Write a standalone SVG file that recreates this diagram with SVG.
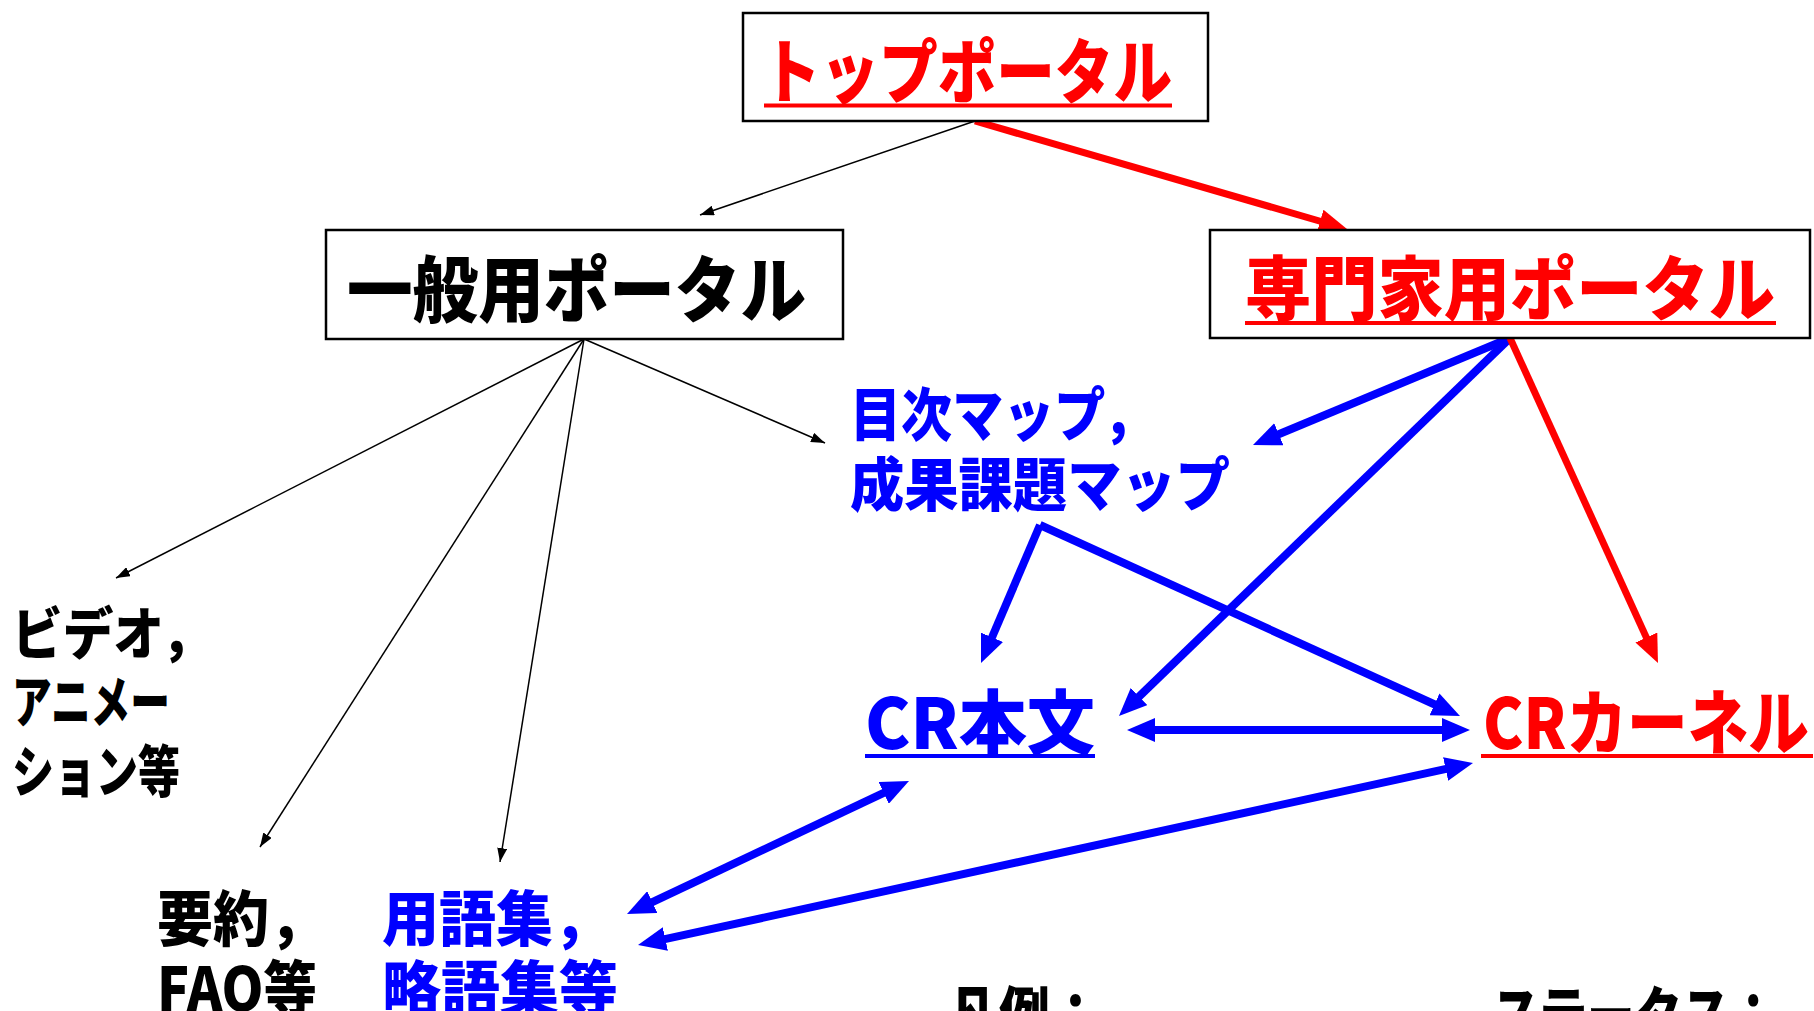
<svg xmlns="http://www.w3.org/2000/svg" width="1814" height="1011" viewBox="0 0 1814 1011">
<style>
  text { font-family: "Noto Sans CJK JP", "Noto Sans", sans-serif; font-weight: 900; }
  .box { fill: #ffffff; stroke: #000000; stroke-width: 2.5; }
  .red { fill: #ff0000; }
  .blue { fill: #0000ff; }
  .blk { fill: #000000; }
  .thin { stroke: #000000; stroke-width: 1.5; fill: none; marker-end: url(#ahBlack); }
  .bl { stroke: #0000ff; stroke-width: 8; fill: none; marker-end: url(#ahBlue); }
  .bl2 { stroke: #0000ff; stroke-width: 8; fill: none; marker-start: url(#ahBlue); marker-end: url(#ahBlue); }
  .rd { stroke: #ff0000; stroke-width: 7; fill: none; marker-end: url(#ahRed); }
</style>
<defs>
  <marker id="ahBlack" markerUnits="userSpaceOnUse" viewBox="0 0 14 10" markerWidth="14" markerHeight="10" refX="14" refY="5" orient="auto-start-reverse">
    <path d="M0,0 L14,5 L0,10 z" fill="#000000"/>
  </marker>
  <marker id="ahBlue" markerUnits="userSpaceOnUse" viewBox="0 0 28 24" markerWidth="28" markerHeight="24" refX="10" refY="12" orient="auto-start-reverse">
    <path d="M0,0 L28,12 L0,24 z" fill="#0000ff"/>
  </marker>
  <marker id="ahRed" markerUnits="userSpaceOnUse" viewBox="0 0 28 24" markerWidth="28" markerHeight="24" refX="10" refY="12" orient="auto-start-reverse">
    <path d="M0,0 L28,12 L0,24 z" fill="#ff0000"/>
  </marker>
</defs>
<rect x="0" y="0" width="1814" height="1011" fill="#ffffff"/>

<g id="connectors">
  <line class="thin" x1="975" y1="121" x2="700" y2="215"/>
  <line class="rd" x1="975" y1="121" x2="1329.7" y2="224"/>
  <line class="thin" x1="584" y1="339" x2="116" y2="578"/>
  <line class="thin" x1="584" y1="339" x2="260" y2="847"/>
  <line class="thin" x1="584" y1="339" x2="500" y2="862"/>
  <line class="thin" x1="584" y1="339" x2="825" y2="443"/>
  <line class="bl" x1="1510" y1="338" x2="1269.6" y2="438.1"/>
  <line class="bl" x1="1510" y1="338" x2="1131.9" y2="703.5"/>
  <line class="rd" x1="1510" y1="338" x2="1650.5" y2="646.6"/>
  <line class="bl" x1="1040" y1="525" x2="988.1" y2="646.5"/>
  <line class="bl" x1="1040" y1="525" x2="1443.6" y2="708.5"/>
  <line class="bl2" x1="1145" y1="730" x2="1452" y2="730"/>
  <line class="bl2" x1="643.3" y1="906.3" x2="892.7" y2="788.7"/>
  <line class="bl2" x1="655.6" y1="941.2" x2="1455.4" y2="766.8"/>
</g>

<g id="top-portal">
  <rect class="box" x="743" y="13" width="465" height="108"/>
  <text class="red" x="762" y="98" font-size="70" textLength="410" lengthAdjust="spacingAndGlyphs">トップポータル</text>
  <rect class="red" x="764" y="103.5" width="408" height="4"/>
</g>

<g id="general-portal">
  <rect class="box" x="326" y="230" width="517" height="109"/>
  <text class="blk" x="347" y="316" font-size="72" textLength="459" lengthAdjust="spacingAndGlyphs">一般用ポータル</text>
</g>

<g id="expert-portal">
  <rect class="box" x="1210" y="230" width="600" height="108"/>
  <text class="red" x="1245" y="315" font-size="70" textLength="530" lengthAdjust="spacingAndGlyphs">専門家用ポータル</text>
  <rect class="red" x="1245" y="321" width="531" height="4"/>
</g>

<g id="toc-map">
  <text class="blue" x="850" y="436" font-size="58" textLength="304" lengthAdjust="spacingAndGlyphs">目次マップ，</text>
  <text class="blue" x="850" y="506" font-size="58" textLength="380" lengthAdjust="spacingAndGlyphs">成果課題マップ</text>
</g>

<g id="cr-body">
  <text class="blue" x="865" y="749" font-size="70" textLength="230" lengthAdjust="spacingAndGlyphs">CR本文</text>
  <rect class="blue" x="865" y="754" width="230" height="4"/>
</g>

<g id="cr-kernel">
  <text class="red" x="1483" y="749" font-size="70" textLength="326" lengthAdjust="spacingAndGlyphs">CRカーネル</text>
  <rect class="red" x="1481" y="754" width="332" height="4"/>
</g>

<g id="video">
  <text class="blk" x="12" y="654" font-size="56" textLength="200" lengthAdjust="spacingAndGlyphs">ビデオ，</text>
  <text class="blk" x="12" y="722" font-size="56" textLength="158" lengthAdjust="spacingAndGlyphs">アニメー</text>
  <text class="blk" x="12" y="792" font-size="56" textLength="168" lengthAdjust="spacingAndGlyphs">ション等</text>
</g>

<g id="summary">
  <text class="blk" x="157" y="941" font-size="60" textLength="168" lengthAdjust="spacingAndGlyphs">要約，</text>
  <text class="blk" x="157" y="1011" font-size="60" textLength="160" lengthAdjust="spacingAndGlyphs">FAQ等</text>
</g>

<g id="glossary">
  <text class="blue" x="382" y="941" font-size="60" textLength="228" lengthAdjust="spacingAndGlyphs">用語集，</text>
  <text class="blue" x="382" y="1011" font-size="60" textLength="236" lengthAdjust="spacingAndGlyphs">略語集等</text>
</g>

<g id="legend">
  <text class="blk" x="948" y="1037" font-size="60" textLength="153" lengthAdjust="spacingAndGlyphs">凡例：</text>
</g>

<g id="status">
  <text class="blk" x="1492" y="1037" font-size="60" textLength="285" lengthAdjust="spacingAndGlyphs">ステータス：</text>
</g>
</svg>
